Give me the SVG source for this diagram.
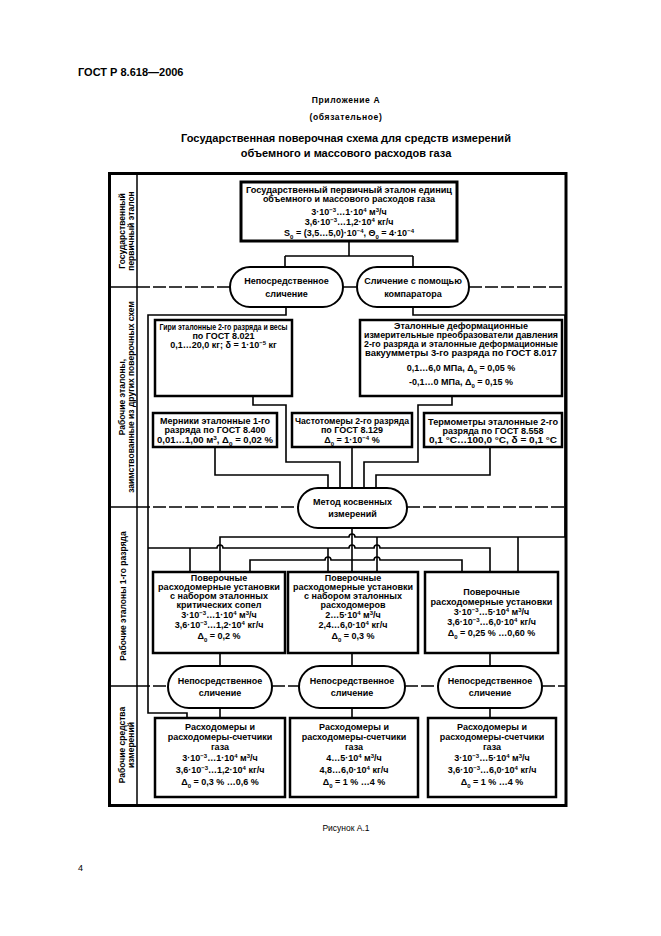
<svg xmlns="http://www.w3.org/2000/svg" width="661" height="936" viewBox="0 0 661 936">
<style>
text{font-family:"Liberation Sans",Arial,sans-serif;fill:#000}
.t{font-size:9px;font-weight:bold;text-anchor:middle}
.b{fill:#fff;stroke:#000;stroke-width:2.5}
.o{fill:#fff;stroke:#000;stroke-width:2}
.l{fill:none;stroke:#000;stroke-width:1.6}
.d{fill:none;stroke:#000;stroke-width:1.4;stroke-dasharray:13 3}
.s{baseline-shift:super;font-size:6px}
.u{baseline-shift:sub;font-size:6px}
.lb{font-size:8.5px;font-weight:bold;text-anchor:middle}
.h{font-weight:bold;text-anchor:middle}
</style>
<rect width="661" height="936" fill="#fff"/>

<g id="header">
<text x="78" y="76" font-size="11" font-weight="bold">ГОСТ Р 8.618—2006</text>
<text class="h" x="346" y="103" font-size="8.5" letter-spacing="0.6">Приложение А</text>
<text class="h" x="346" y="120" font-size="8.5" letter-spacing="0.6">(обязательное)</text>
<text class="h" x="346" y="142" font-size="11">Государственная поверочная схема для средств измерений</text>
<text class="h" x="346" y="157" font-size="11">объемного и массового расходов газа</text>
</g>

<g id="frame">
<rect x="109.5" y="173.5" width="456.5" height="632" fill="none" stroke="#000" stroke-width="3"/>
<line x1="137" y1="173" x2="137" y2="805" stroke="#000" stroke-width="1.5"/>
<path d="M109 287H137M109 507H137M109 686H137" stroke="#000" stroke-width="1.5" fill="none"/>
<path class="d" d="M137 287H230M343 287H357M469 287H566M137 507H298M407 507H566M137 686H168M272 686H299M405 686H438M542 686H566"/>
<text class="lb" transform="translate(125,231) rotate(-90)">Государственный</text>
<text class="lb" transform="translate(134,231) rotate(-90)">первичный эталон</text>
<text class="lb" transform="translate(125,397) rotate(-90)">Рабочие эталоны,</text>
<text class="lb" transform="translate(134,397) rotate(-90)">заимствованные из других поверочных схем</text>
<text class="lb" transform="translate(126,596) rotate(-90)" font-size="9">Рабочие эталоны 1-го разряда</text>
<text class="lb" transform="translate(125,745) rotate(-90)" font-size="9">Рабочие средства</text>
<text class="lb" transform="translate(134,745) rotate(-90)" font-size="9">измерений</text>
</g>

<g id="connectors" class="l">
<path d="M349 241V256M285 256H413M285 256V267M413 256V267"/>
<path d="M286 307V315H148V713H187V718"/>
<path d="M413 307V315H565V537H355A3 3 0 0 0 349 537H220V572"/>
<path d="M518 537V572M377 537V572"/>
<path d="M148 548H217A3 3 0 0 1 223 548H349A3 3 0 0 1 355 548H374A3 3 0 0 1 380 548H490V572"/>
<path d="M190 548V572M328 548V572"/>
<path d="M352 528V572"/>
<path d="M250 572V560H325A3 3 0 0 1 331 560H374A3 3 0 0 1 380 560H462V572"/>
<path d="M215 447V475H328V488"/>
<path d="M253 396V405H286V462H340V488"/>
<path d="M352 447V488"/>
<path d="M452 396V405H418V462H364V488"/>
<path d="M490 447V475H376V488"/>
<path d="M220 653V666M352 653V666M490 653V666"/>
<path d="M220 708V718M352 708V718M490 708V718"/>
</g>

<g id="primary">
<rect x="241" y="182" width="216" height="59" fill="#fff" stroke="#000" stroke-width="3"/>
<text class="t" x="349" y="193" textLength="206" lengthAdjust="spacingAndGlyphs">Государственный первичный эталон единиц</text>
<text class="t" x="349" y="201.5">объемного и массового расходов газа</text>
<text class="t" x="349" y="215">3·10<tspan class="s">−3</tspan>…1·10<tspan class="s">4</tspan> м<tspan class="s">3</tspan>/ч</text>
<text class="t" x="349" y="225">3,6·10<tspan class="s">−3</tspan>…1,2·10<tspan class="s">4</tspan> кг/ч</text>
<text class="t" x="349" y="235.5">S<tspan class="u">0</tspan> = (3,5…5,0)·10<tspan class="s">−4</tspan>, Θ<tspan class="u">0</tspan> = 4·10<tspan class="s">−4</tspan></text>
</g>

<g id="oval-direct-1">
<rect class="o" x="230" y="267" width="113" height="40" rx="20"/>
<text class="t" x="286.5" y="284">Непосредственное</text>
<text class="t" x="286.5" y="296.5">сличение</text>
</g>
<g id="oval-comparator">
<rect class="o" x="357" y="267" width="112" height="40" rx="20"/>
<text class="t" x="413" y="284">Сличение с помощью</text>
<text class="t" x="413" y="296.5">компаратора</text>
</g>

<g id="weights">
<rect class="b" x="155" y="320" width="137" height="76"/>
<text class="t" x="223.5" y="330" textLength="128" lengthAdjust="spacingAndGlyphs">Гири эталонные 2-го разряда и весы</text>
<text class="t" x="223.5" y="338.5">по ГОСТ 8.021</text>
<text class="t" x="223.5" y="347.5">0,1…20,0 кг; δ = 1·10<tspan class="s">−5</tspan> кг</text>
</g>
<g id="pressure">
<rect class="b" x="360" y="320" width="202" height="76"/>
<text class="t" x="461" y="328.5">Эталонные деформационные</text>
<text class="t" x="461" y="338" textLength="194" lengthAdjust="spacingAndGlyphs">измерительные преобразователи давления</text>
<text class="t" x="461" y="346.5" textLength="194" lengthAdjust="spacingAndGlyphs">2-го разряда и эталонные деформационные</text>
<text class="t" x="461" y="356" textLength="192" lengthAdjust="spacingAndGlyphs">вакуумметры 3-го разряда по ГОСТ 8.017</text>
<text class="t" x="461" y="371">0,1…6,0 МПа, Δ<tspan class="u">0</tspan> = 0,05 %</text>
<text class="t" x="461" y="385">-0,1…0 МПа, Δ<tspan class="u">0</tspan> = 0,15 %</text>
</g>

<g id="measures">
<rect class="b" x="153" y="413" width="124" height="34"/>
<text class="t" x="215" y="424">Мерники эталонные 1-го</text>
<text class="t" x="215" y="433">разряда по ГОСТ 8.400</text>
<text class="t" x="215" y="443" textLength="116" lengthAdjust="spacingAndGlyphs">0,01…1,00 м<tspan class="s">3</tspan>, Δ<tspan class="u">0</tspan> = 0,02 %</text>
</g>
<g id="frequency">
<rect class="b" x="292" y="413" width="120" height="34"/>
<text class="t" x="352" y="424" textLength="114" lengthAdjust="spacingAndGlyphs">Частотомеры 2-го разряда</text>
<text class="t" x="352" y="433">по ГОСТ 8.129</text>
<text class="t" x="352" y="443">Δ<tspan class="u">0</tspan> = 1·10<tspan class="s">−4</tspan> %</text>
</g>
<g id="thermometers">
<rect class="b" x="424" y="413" width="138" height="34"/>
<text class="t" x="493" y="424.5" textLength="130" lengthAdjust="spacingAndGlyphs">Термометры эталонные 2-го</text>
<text class="t" x="493" y="433.5">разряда по ГОСТ 8.558</text>
<text class="t" x="493" y="443" textLength="128" lengthAdjust="spacingAndGlyphs">0,1 °C…100,0 °C, δ = 0,1 °C</text>
</g>

<g id="oval-indirect">
<rect class="o" x="298" y="488" width="109" height="40" rx="20"/>
<text class="t" x="352.5" y="505">Метод косвенных</text>
<text class="t" x="352.5" y="517">измерений</text>
</g>

<g id="setup-nozzles">
<rect class="b" x="153" y="572" width="132" height="81"/>
<text class="t" x="219" y="581">Поверочные</text>
<text class="t" x="219" y="590" textLength="122" lengthAdjust="spacingAndGlyphs">расходомерные установки</text>
<text class="t" x="219" y="599">с набором эталонных</text>
<text class="t" x="219" y="607.5">критических сопел</text>
<text class="t" x="219" y="617.5">3·10<tspan class="s">−3</tspan>…1·10<tspan class="s">4</tspan> м<tspan class="s">3</tspan>/ч</text>
<text class="t" x="219" y="627.5">3,6·10<tspan class="s">−3</tspan>…1,2·10<tspan class="s">4</tspan> кг/ч</text>
<text class="t" x="219" y="638.5">Δ<tspan class="u">0</tspan> = 0,2 %</text>
</g>
<g id="setup-meters">
<rect class="b" x="288" y="572" width="130" height="81"/>
<text class="t" x="353" y="581">Поверочные</text>
<text class="t" x="353" y="590" textLength="120" lengthAdjust="spacingAndGlyphs">расходомерные установки</text>
<text class="t" x="353" y="599">с набором эталонных</text>
<text class="t" x="353" y="607.5">расходомеров</text>
<text class="t" x="353" y="617.5">2…5·10<tspan class="s">4</tspan> м<tspan class="s">3</tspan>/ч</text>
<text class="t" x="353" y="627.5">2,4…6,0·10<tspan class="s">4</tspan> кг/ч</text>
<text class="t" x="353" y="638.5">Δ<tspan class="u">0</tspan> = 0,3 %</text>
</g>
<g id="setup-plain">
<rect class="b" x="425" y="572" width="133" height="81"/>
<text class="t" x="491.5" y="595">Поверочные</text>
<text class="t" x="491.5" y="605" textLength="122" lengthAdjust="spacingAndGlyphs">расходомерные установки</text>
<text class="t" x="491.5" y="615">3·10<tspan class="s">−3</tspan>…5·10<tspan class="s">4</tspan> м<tspan class="s">3</tspan>/ч</text>
<text class="t" x="491.5" y="625">3,6·10<tspan class="s">−3</tspan>…6,0·10<tspan class="s">4</tspan> кг/ч</text>
<text class="t" x="491.5" y="635.5">Δ<tspan class="u">0</tspan> = 0,25 % …0,60 %</text>
</g>

<g id="oval-direct-2">
<rect class="o" x="168" y="666" width="104" height="42" rx="21"/>
<text class="t" x="220" y="683.5">Непосредственное</text>
<text class="t" x="220" y="696">сличение</text>
</g>
<g id="oval-direct-3">
<rect class="o" x="299" y="666" width="106" height="42" rx="21"/>
<text class="t" x="352" y="683.5">Непосредственное</text>
<text class="t" x="352" y="696">сличение</text>
</g>
<g id="oval-direct-4">
<rect class="o" x="438" y="666" width="104" height="42" rx="21"/>
<text class="t" x="490" y="683.5">Непосредственное</text>
<text class="t" x="490" y="696">сличение</text>
</g>

<g id="meters-1">
<rect class="b" x="155" y="718" width="130" height="79"/>
<text class="t" x="220" y="730">Расходомеры и</text>
<text class="t" x="220" y="740">расходомеры-счетчики</text>
<text class="t" x="220" y="750">газа</text>
<text class="t" x="220" y="761">3·10<tspan class="s">−3</tspan>…1·10<tspan class="s">4</tspan> м<tspan class="s">3</tspan>/ч</text>
<text class="t" x="220" y="773">3,6·10<tspan class="s">−3</tspan>…1,2·10<tspan class="s">4</tspan> кг/ч</text>
<text class="t" x="220" y="785">Δ<tspan class="u">0</tspan> = 0,3 % …0,6 %</text>
</g>
<g id="meters-2">
<rect class="b" x="290" y="718" width="128" height="79"/>
<text class="t" x="354" y="730">Расходомеры и</text>
<text class="t" x="354" y="740">расходомеры-счетчики</text>
<text class="t" x="354" y="750">газа</text>
<text class="t" x="354" y="761">4…5·10<tspan class="s">4</tspan> м<tspan class="s">3</tspan>/ч</text>
<text class="t" x="354" y="773">4,8…6,0·10<tspan class="s">4</tspan> кг/ч</text>
<text class="t" x="354" y="785">Δ<tspan class="u">0</tspan> = 1 % …4 %</text>
</g>
<g id="meters-3">
<rect class="b" x="428" y="718" width="128" height="79"/>
<text class="t" x="492" y="730">Расходомеры и</text>
<text class="t" x="492" y="740">расходомеры-счетчики</text>
<text class="t" x="492" y="750">газа</text>
<text class="t" x="492" y="761">3·10<tspan class="s">−3</tspan>…5·10<tspan class="s">4</tspan> м<tspan class="s">3</tspan>/ч</text>
<text class="t" x="492" y="773">3,6·10<tspan class="s">−3</tspan>…6,0·10<tspan class="s">4</tspan> кг/ч</text>
<text class="t" x="492" y="785">Δ<tspan class="u">0</tspan> = 1 % …4 %</text>
</g>

<g id="footer">
<text x="346" y="831" font-size="8.5" text-anchor="middle">Рисунок А.1</text>
<text x="78" y="871" font-size="9">4</text>
</g>
</svg>
